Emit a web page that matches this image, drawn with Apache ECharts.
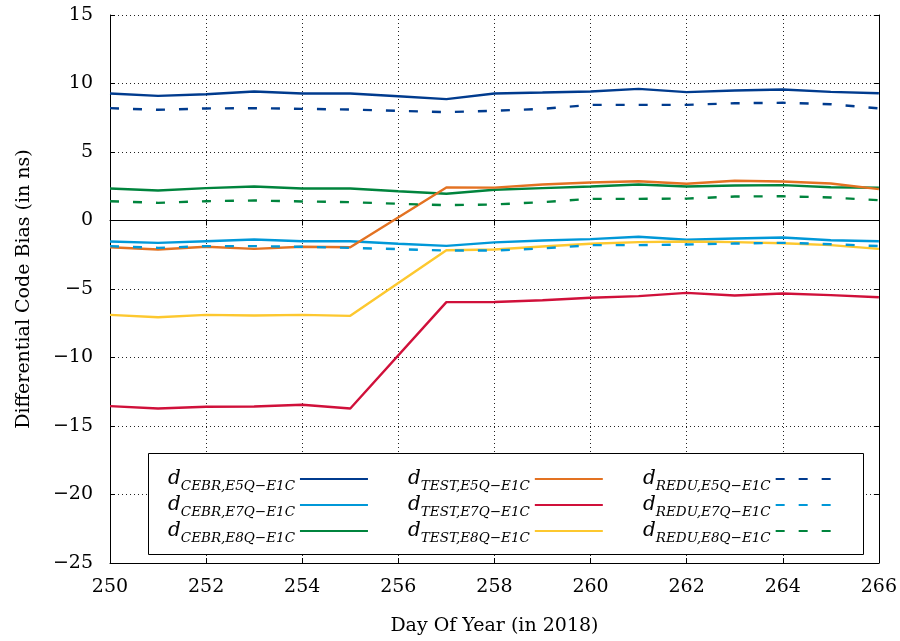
<!DOCTYPE html>
<html>
<head>
<meta charset="utf-8">
<script src="https://cdn.jsdelivr.net/npm/echarts@6/dist/echarts.min.js"></script>
<style>html,body{margin:0;padding:0;background:#fff}#c{width:900px;height:641px}</style>
</head>
<body>
<div id="c"></div>
<script>
const days = [250,251,252,253,254,255,256,257,258,259,260,261,262,263,264,265,266];
const cebrE5Q = [9.27,9.10,9.22,9.42,9.27,9.27,9.07,8.86,9.27,9.34,9.42,9.61,9.37,9.49,9.56,9.39,9.29];
const cebrE7Q = [-1.53,-1.63,-1.51,-1.39,-1.51,-1.51,-1.70,-1.85,-1.60,-1.46,-1.36,-1.19,-1.41,-1.31,-1.24,-1.44,-1.51];
const cebrE8Q = [2.34,2.19,2.36,2.48,2.34,2.34,2.14,1.95,2.24,2.36,2.48,2.63,2.48,2.55,2.58,2.43,2.39];
const testE5Q = [-1.95,-2.12,-1.92,-2.07,-1.92,-1.95,null,2.41,2.40,2.63,2.77,2.87,2.68,2.90,2.85,2.70,2.29];
const testE7Q = [-13.55,-13.72,-13.60,-13.58,-13.45,-13.72,null,-5.96,-5.95,-5.82,-5.64,-5.52,-5.28,-5.47,-5.33,-5.45,-5.60];
const testE8Q = [-6.89,-7.06,-6.89,-6.93,-6.89,-6.96,null,-2.17,-2.12,-1.90,-1.70,-1.58,-1.53,-1.58,-1.66,-1.80,-2.07];
const reduE5Q = [8.20,8.08,8.18,8.20,8.15,8.10,8.00,7.91,8.01,8.15,8.44,8.44,8.44,8.56,8.59,8.49,8.18];
const reduE7Q = [-1.87,-2.00,-1.87,-1.87,-1.92,-2.00,-2.09,-2.19,-2.19,-2.04,-1.80,-1.80,-1.75,-1.68,-1.63,-1.73,-1.87];
const reduE8Q = [1.41,1.29,1.41,1.46,1.39,1.34,1.22,1.12,1.17,1.34,1.58,1.58,1.60,1.75,1.77,1.68,1.48];
const xTicks = [250,252,254,256,258,260,262,264,266];
const yTicks = [-25,-20,-15,-10,-5,0,5,10,15];

const C_DB = '#003b8e', C_LB = '#0098d8', C_GR = '#00843d', C_OR = '#e37222', C_RD = '#d0103a', C_YE = '#fdc82f';
const FONT = 'DejaVu Serif';

function mk(name, vals, color, dashed) {
  return {
    name: name, type: 'line', data: days.map((d, i) => [d, vals[i]]),
    showSymbol: false, symbol: 'none', connectNulls: true, animation: false,
    lineStyle: { color: color, width: 2.4, type: dashed ? [9, 14] : 'solid' },
    itemStyle: { color: color }
  };
}
const series = [
  mk('CEBR,E5Q−E1C', cebrE5Q, C_DB, false),
  mk('CEBR,E7Q−E1C', cebrE7Q, C_LB, false),
  mk('CEBR,E8Q−E1C', cebrE8Q, C_GR, false),
  mk('TEST,E5Q−E1C', testE5Q, C_OR, false),
  mk('TEST,E7Q−E1C', testE7Q, C_RD, false),
  mk('TEST,E8Q−E1C', testE8Q, C_YE, false),
  mk('REDU,E5Q−E1C', reduE5Q, C_DB, true),
  mk('REDU,E7Q−E1C', reduE7Q, C_LB, true),
  mk('REDU,E8Q−E1C', reduE8Q, C_GR, true)
];

const rich = {
  d: { fontFamily: FONT, fontStyle: 'italic', fontSize: 20, color: '#000', lineHeight: 22 },
  s: { fontFamily: FONT, fontStyle: 'italic', fontSize: 13.5, color: '#000', lineHeight: 12, padding: [14, 0, 0, 0] }
};
function legendCol(left, names) {
  return {
    data: names, orient: 'vertical', left: left, top: 465, align: 'right',
    itemWidth: 68, itemHeight: 14, itemGap: -2, padding: 0, z: 6,
    itemStyle: { opacity: 0 },
    formatter: n => '{d|d}{s|' + n + '}',
    textStyle: { rich: rich }
  };
}

const chart = echarts.init(document.getElementById('c'), null, { renderer: 'canvas' });
chart.setOption({
  backgroundColor: '#fff',
  animation: false,
  grid: { left: 110, right: 20, top: 15, bottom: 78 },
  graphic: [{ type: 'rect', z: 3, shape: { x: 148.5, y: 453.5, width: 715, height: 101 },
    style: { fill: '#fff', stroke: '#000', lineWidth: 1 } }],
  legend: [
    legendCol(168, ['CEBR,E5Q−E1C', 'CEBR,E7Q−E1C', 'CEBR,E8Q−E1C']),
    legendCol(408, ['TEST,E5Q−E1C', 'TEST,E7Q−E1C', 'TEST,E8Q−E1C']),
    legendCol(643, ['REDU,E5Q−E1C', 'REDU,E7Q−E1C', 'REDU,E8Q−E1C'])
  ],
  xAxis: [{
    type: 'value', min: xTicks[0], max: xTicks[xTicks.length - 1], interval: 2,
    name: 'Day Of Year (in 2018)', nameLocation: 'middle', nameGap: 54,
    nameTextStyle: { fontFamily: FONT, fontSize: 19, color: '#000' },
    axisLine: { show: true, onZero: false, lineStyle: { color: '#000', width: 1 } },
    axisTick: { inside: true, length: 5, lineStyle: { color: '#000' } },
    axisLabel: { fontFamily: FONT, fontSize: 19, color: '#000', margin: 15 },
    splitLine: { show: true, lineStyle: { color: '#222', width: 1, type: [1, 3] } }
  }, {
    type: 'value', position: 'top', min: xTicks[0], max: xTicks[xTicks.length - 1], interval: 2,
    axisLine: { show: true, lineStyle: { color: '#000', width: 1 } },
    axisTick: { inside: true, length: 5, lineStyle: { color: '#000' } },
    axisLabel: { show: false }, splitLine: { show: false }
  }],
  yAxis: [{
    type: 'value', min: yTicks[0], max: yTicks[yTicks.length - 1], interval: 5,
    name: 'Differential Code Bias (in ns)', nameLocation: 'middle', nameGap: 76,
    nameTextStyle: { fontFamily: FONT, fontSize: 19, color: '#000' },
    axisLine: { show: true, onZero: false, lineStyle: { color: '#000', width: 1 } },
    axisTick: { inside: true, length: 5, lineStyle: { color: '#000' } },
    axisLabel: { fontFamily: FONT, fontSize: 19, color: '#000', margin: 17,
      formatter: v => (v < 0 ? '−' + Math.abs(v) : String(v)) },
    splitLine: { show: true, lineStyle: { color: '#222', width: 1, type: [1, 3] } }
  }, {
    type: 'value', position: 'right', min: yTicks[0], max: yTicks[yTicks.length - 1], interval: 5,
    axisLine: { show: true, lineStyle: { color: '#000', width: 1 } },
    axisTick: { inside: true, length: 5, lineStyle: { color: '#000' } },
    axisLabel: { show: false }, splitLine: { show: false }
  }],
  series: series
});
</script>
</body>
</html>
